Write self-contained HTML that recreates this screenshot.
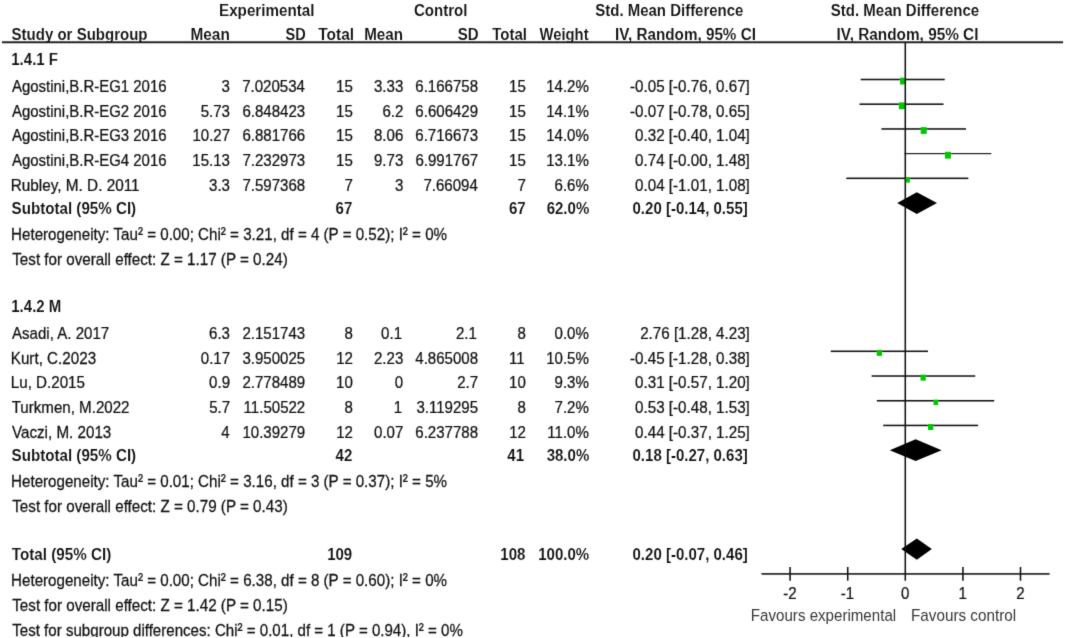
<!DOCTYPE html>
<html><head><meta charset="utf-8"><title>Forest plot</title>
<style>
html,body{margin:0;padding:0;background:#fff;}
svg{display:block;}
text{font-family:"Liberation Sans",Arial,Helvetica,sans-serif;font-size:17.0px;fill:#111;stroke:#111;stroke-width:0.25px;}
text.f{stroke:none;fill:#383838;}
text.b{font-weight:bold;stroke:#fff;stroke-width:0.07px;}
</style></head><body>
<svg width="1065" height="638" viewBox="0 0 1065 638">
<defs><clipPath id="hc"><rect x="0" y="0" width="1065" height="43"/></clipPath><clipPath id="bc"><rect x="0" y="0" width="1065" height="636.2"/></clipPath><filter id="soft" x="0" y="0" width="1065" height="638" filterUnits="userSpaceOnUse"><feConvolveMatrix order="3" kernelMatrix="0.0113 0.0838 0.0113 0.0838 0.6193 0.0838 0.0113 0.0838 0.0113" divisor="1" bias="0" edgeMode="duplicate" preserveAlpha="false"/></filter></defs>
<rect x="0" y="0" width="1065" height="638" fill="#fff"/>
<g filter="url(#soft)" clip-path="url(#bc)">
<g clip-path="url(#hc)">
<text transform="translate(218.98,16.00) scale(0.8954,1)" class="b">Experimental</text>
<text transform="translate(413.88,16.00) scale(0.8866,1)" class="b">Control</text>
<text transform="translate(595.27,16.00) scale(0.8816,1)" class="b">Std. Mean Difference</text>
<text transform="translate(830.87,16.00) scale(0.8828,1)" class="b">Std. Mean Difference</text>
<text transform="translate(11.57,40.00) scale(0.8838,1)" class="b">Study or Subgroup</text>
<text transform="translate(190.47,40.00) scale(0.9061,1)" class="b">Mean</text>
<text transform="translate(285.48,40.00) scale(0.8563,1)" class="b">SD</text>
<text transform="translate(318.23,40.00) scale(0.9114,1)" class="b">Total</text>
<text transform="translate(364.18,40.00) scale(0.8940,1)" class="b">Mean</text>
<text transform="translate(457.82,40.00) scale(0.8850,1)" class="b">SD</text>
<text transform="translate(492.33,40.00) scale(0.8824,1)" class="b">Total</text>
<text transform="translate(539.49,40.00) scale(0.8711,1)" class="b">Weight</text>
<text transform="translate(614.98,40.00) scale(0.8975,1)" class="b">IV, Random, 95% CI</text>
<text transform="translate(836.57,40.00) scale(0.9039,1)" class="b">IV, Random, 95% CI</text>
</g>
<g>
<text transform="translate(11.25,65.00) scale(0.8850,1)" class="b">1.4.1 F</text>
<text transform="translate(11.97,91.80) scale(0.8801,1)">Agostini,B.R-EG1 2016</text>
<text transform="translate(221.58,91.80) scale(0.8850,1)">3</text>
<text transform="translate(242.19,91.80) scale(0.8850,1)">7.020534</text>
<text transform="translate(336.09,91.80) scale(0.8850,1)">15</text>
<text transform="translate(373.97,91.80) scale(0.8850,1)">3.33</text>
<text transform="translate(415.30,91.80) scale(0.8850,1)">6.166758</text>
<text transform="translate(509.09,91.80) scale(0.8850,1)">15</text>
<text transform="translate(546.18,91.80) scale(0.8850,1)">14.2%</text>
<text transform="translate(630.04,91.80) scale(0.8930,1)">-0.05 [-0.76, 0.67]</text>
<text transform="translate(11.97,116.51) scale(0.8801,1)">Agostini,B.R-EG2 2016</text>
<text transform="translate(200.67,116.51) scale(0.8850,1)">5.73</text>
<text transform="translate(242.41,116.51) scale(0.8850,1)">6.848423</text>
<text transform="translate(336.09,116.51) scale(0.8850,1)">15</text>
<text transform="translate(382.43,116.51) scale(0.8850,1)">6.2</text>
<text transform="translate(415.36,116.51) scale(0.8850,1)">6.606429</text>
<text transform="translate(509.09,116.51) scale(0.8850,1)">15</text>
<text transform="translate(546.18,116.51) scale(0.8850,1)">14.1%</text>
<text transform="translate(630.04,116.51) scale(0.8930,1)">-0.07 [-0.78, 0.65]</text>
<text transform="translate(11.97,141.22) scale(0.8801,1)">Agostini,B.R-EG3 2016</text>
<text transform="translate(192.40,141.22) scale(0.8850,1)">10.27</text>
<text transform="translate(242.41,141.22) scale(0.8850,1)">6.881766</text>
<text transform="translate(336.09,141.22) scale(0.8850,1)">15</text>
<text transform="translate(373.97,141.22) scale(0.8850,1)">8.06</text>
<text transform="translate(415.31,141.22) scale(0.8850,1)">6.716673</text>
<text transform="translate(509.09,141.22) scale(0.8850,1)">15</text>
<text transform="translate(546.18,141.22) scale(0.8850,1)">14.0%</text>
<text transform="translate(635.09,141.22) scale(0.8930,1)">0.32 [-0.40, 1.04]</text>
<text transform="translate(11.97,165.93) scale(0.8801,1)">Agostini,B.R-EG4 2016</text>
<text transform="translate(192.31,165.93) scale(0.8850,1)">15.13</text>
<text transform="translate(242.41,165.93) scale(0.8850,1)">7.232973</text>
<text transform="translate(336.09,165.93) scale(0.8850,1)">15</text>
<text transform="translate(373.97,165.93) scale(0.8850,1)">9.73</text>
<text transform="translate(415.40,165.93) scale(0.8850,1)">6.991767</text>
<text transform="translate(509.09,165.93) scale(0.8850,1)">15</text>
<text transform="translate(546.18,165.93) scale(0.8850,1)">13.1%</text>
<text transform="translate(635.09,165.93) scale(0.8930,1)">0.74 [-0.00, 1.48]</text>
<text transform="translate(10.74,190.64) scale(0.9021,1)">Rubley, M. D. 2011</text>
<text transform="translate(209.04,190.64) scale(0.8850,1)">3.3</text>
<text transform="translate(242.40,190.64) scale(0.8850,1)">7.597368</text>
<text transform="translate(344.58,190.64) scale(0.8850,1)">7</text>
<text transform="translate(394.88,190.64) scale(0.8850,1)">3</text>
<text transform="translate(423.45,190.64) scale(0.8850,1)">7.66094</text>
<text transform="translate(517.58,190.64) scale(0.8850,1)">7</text>
<text transform="translate(554.54,190.64) scale(0.8850,1)">6.6%</text>
<text transform="translate(635.09,190.64) scale(0.8930,1)">0.04 [-1.01, 1.08]</text>
<text transform="translate(11.56,213.65) scale(0.8920,1)" class="b">Subtotal (95% CI)</text>
<text transform="translate(335.62,213.65) scale(0.8850,1)" class="b">67</text>
<text transform="translate(508.92,213.65) scale(0.8850,1)" class="b">67</text>
<text transform="translate(546.64,213.65) scale(0.8850,1)" class="b">62.0%</text>
<text transform="translate(632.51,213.65) scale(0.8844,1)" class="b">0.20 [-0.14, 0.55]</text>
<text transform="translate(11.06,240.40) scale(0.8915,1)">Heterogeneity: Tau² = 0.00; Chi² = 3.21, df = 4 (P = 0.52); I² = 0%</text>
<text transform="translate(12.26,265.40) scale(0.8940,1)">Test for overall effect: Z = 1.17 (P = 0.24)</text>
<text transform="translate(11.25,312.10) scale(0.8850,1)" class="b">1.4.2 M</text>
<text transform="translate(11.97,338.90) scale(0.8873,1)">Asadi, A. 2017</text>
<text transform="translate(209.04,338.90) scale(0.8850,1)">6.3</text>
<text transform="translate(242.41,338.90) scale(0.8850,1)">2.151743</text>
<text transform="translate(344.47,338.90) scale(0.8850,1)">8</text>
<text transform="translate(381.11,338.90) scale(0.8850,1)">0.1</text>
<text transform="translate(455.91,338.90) scale(0.8850,1)">2.1</text>
<text transform="translate(517.47,338.90) scale(0.8850,1)">8</text>
<text transform="translate(554.54,338.90) scale(0.8850,1)">0.0%</text>
<text transform="translate(640.14,338.90) scale(0.8930,1)">2.76 [1.28, 4.23]</text>
<text transform="translate(10.75,363.61) scale(0.8959,1)">Kurt, C.2023</text>
<text transform="translate(200.77,363.61) scale(0.8850,1)">0.17</text>
<text transform="translate(242.38,363.61) scale(0.8850,1)">3.950025</text>
<text transform="translate(336.21,363.61) scale(0.8850,1)">12</text>
<text transform="translate(373.97,363.61) scale(0.8850,1)">2.23</text>
<text transform="translate(415.30,363.61) scale(0.8850,1)">4.865008</text>
<text transform="translate(509.01,363.61) scale(0.8850,1)">11</text>
<text transform="translate(546.18,363.61) scale(0.8850,1)">10.5%</text>
<text transform="translate(630.04,363.61) scale(0.8930,1)">-0.45 [-1.28, 0.38]</text>
<text transform="translate(10.75,388.32) scale(0.8930,1)">Lu, D.2015</text>
<text transform="translate(209.09,388.32) scale(0.8850,1)">0.9</text>
<text transform="translate(242.46,388.32) scale(0.8850,1)">2.778489</text>
<text transform="translate(336.04,388.32) scale(0.8850,1)">10</text>
<text transform="translate(394.81,388.32) scale(0.8850,1)">0</text>
<text transform="translate(457.23,388.32) scale(0.8850,1)">2.7</text>
<text transform="translate(509.04,388.32) scale(0.8850,1)">10</text>
<text transform="translate(554.54,388.32) scale(0.8850,1)">9.3%</text>
<text transform="translate(635.09,388.32) scale(0.8930,1)">0.31 [-0.57, 1.20]</text>
<text transform="translate(11.66,413.03) scale(0.8892,1)">Turkmen, M.2022</text>
<text transform="translate(209.13,413.03) scale(0.8850,1)">5.7</text>
<text transform="translate(243.61,413.03) scale(0.8850,1)">11.50522</text>
<text transform="translate(344.47,413.03) scale(0.8850,1)">8</text>
<text transform="translate(393.65,413.03) scale(0.8850,1)">1</text>
<text transform="translate(416.39,413.03) scale(0.8850,1)">3.119295</text>
<text transform="translate(517.47,413.03) scale(0.8850,1)">8</text>
<text transform="translate(554.54,413.03) scale(0.8850,1)">7.2%</text>
<text transform="translate(635.09,413.03) scale(0.8930,1)">0.53 [-0.48, 1.53]</text>
<text transform="translate(11.93,437.74) scale(0.8952,1)">Vaczi, M. 2013</text>
<text transform="translate(221.36,437.74) scale(0.8850,1)">4</text>
<text transform="translate(242.46,437.74) scale(0.8850,1)">10.39279</text>
<text transform="translate(336.21,437.74) scale(0.8850,1)">12</text>
<text transform="translate(374.07,437.74) scale(0.8850,1)">0.07</text>
<text transform="translate(415.30,437.74) scale(0.8850,1)">6.237788</text>
<text transform="translate(509.21,437.74) scale(0.8850,1)">12</text>
<text transform="translate(547.28,437.74) scale(0.8850,1)">11.0%</text>
<text transform="translate(635.09,437.74) scale(0.8930,1)">0.44 [-0.37, 1.25]</text>
<text transform="translate(11.56,460.75) scale(0.8920,1)" class="b">Subtotal (95% CI)</text>
<text transform="translate(335.56,460.75) scale(0.8850,1)" class="b">42</text>
<text transform="translate(507.37,460.75) scale(0.8850,1)" class="b">41</text>
<text transform="translate(546.64,460.75) scale(0.8850,1)" class="b">38.0%</text>
<text transform="translate(632.51,460.75) scale(0.8844,1)" class="b">0.18 [-0.27, 0.63]</text>
<text transform="translate(11.06,487.30) scale(0.8915,1)">Heterogeneity: Tau² = 0.01; Chi² = 3.16, df = 3 (P = 0.37); I² = 5%</text>
<text transform="translate(12.26,512.30) scale(0.8940,1)">Test for overall effect: Z = 0.79 (P = 0.43)</text>
<text transform="translate(11.83,559.70) scale(0.8946,1)" class="b">Total (95% CI)</text>
<text transform="translate(327.15,559.70) scale(0.8850,1)" class="b">109</text>
<text transform="translate(500.35,559.70) scale(0.8850,1)" class="b">108</text>
<text transform="translate(538.26,559.70) scale(0.8850,1)" class="b">100.0%</text>
<text transform="translate(632.51,559.70) scale(0.8844,1)" class="b">0.20 [-0.07, 0.46]</text>
<text transform="translate(11.06,586.30) scale(0.8915,1)">Heterogeneity: Tau² = 0.00; Chi² = 6.38, df = 8 (P = 0.60); I² = 0%</text>
<text transform="translate(12.26,611.10) scale(0.8940,1)">Test for overall effect: Z = 1.42 (P = 0.15)</text>
<text transform="translate(12.26,635.50) scale(0.8883,1)">Test for subgroup differences: Chi² = 0.01, df = 1 (P = 0.94), I² = 0%</text>
<text transform="translate(783.15,598.90) scale(0.8850,1)">-2</text>
<text transform="translate(840.74,598.90) scale(0.8850,1)">-1</text>
<text transform="translate(901.11,598.90) scale(0.8850,1)">0</text>
<text transform="translate(958.50,598.90) scale(0.8850,1)">1</text>
<text transform="translate(1016.31,598.90) scale(0.8850,1)">2</text>
<text transform="translate(750.86,621.00) scale(0.8892,1)" class="f" fill="#333">Favours experimental</text>
<text transform="translate(911.05,621.00) scale(0.8976,1)" class="f" fill="#333">Favours control</text>
</g>
<g>
<rect x="2" y="41.3" width="1061" height="1.9" fill="#1a1a1a"/>
<rect x="860.72" y="78.75" width="83.97" height="1.5" fill="#0a0a0a"/>
<rect x="900.02" y="77.70" width="6.00" height="6.80" fill="#00c600"/>
<rect x="859.57" y="103.46" width="83.97" height="1.5" fill="#0a0a0a"/>
<rect x="898.87" y="102.41" width="6.00" height="6.80" fill="#00c600"/>
<rect x="881.46" y="128.17" width="84.54" height="1.5" fill="#0a0a0a"/>
<rect x="920.73" y="127.12" width="6.00" height="6.80" fill="#00c600"/>
<rect x="904.50" y="153.08" width="86.85" height="1.1" fill="#0a0a0a"/>
<rect x="944.92" y="151.83" width="6.00" height="6.80" fill="#00c600"/>
<rect x="846.32" y="177.59" width="121.98" height="1.5" fill="#0a0a0a"/>
<rect x="905.30" y="177.24" width="4.60" height="5.40" fill="#00c600"/>
<polygon points="897.24,203.05 916.82,192.15 936.98,203.05 916.82,213.95" fill="#000"/>
<rect x="830.77" y="350.56" width="97.22" height="1.5" fill="#0a0a0a"/>
<rect x="876.78" y="349.91" width="5.20" height="6.00" fill="#00c600"/>
<rect x="871.67" y="375.27" width="103.55" height="1.5" fill="#0a0a0a"/>
<rect x="920.56" y="374.62" width="5.20" height="6.00" fill="#00c600"/>
<rect x="876.85" y="399.98" width="117.38" height="1.5" fill="#0a0a0a"/>
<rect x="933.53" y="399.63" width="4.60" height="5.40" fill="#00c600"/>
<rect x="883.19" y="424.69" width="94.91" height="1.5" fill="#0a0a0a"/>
<rect x="928.04" y="424.04" width="5.20" height="6.00" fill="#00c600"/>
<polygon points="889.75,450.15 915.67,439.25 941.59,450.15 915.67,461.05" fill="#000"/>
<polygon points="901.27,549.10 916.82,538.40 931.80,549.10 916.82,559.80" fill="#000"/>
<rect x="904.55" y="43" width="1.5" height="537.7" fill="#0a0a0a"/>
<rect x="761.5" y="573.15" width="288.1" height="1.5" fill="#0a0a0a"/>
<rect x="789.35" y="567" width="1.5" height="13.7" fill="#0a0a0a"/>
<rect x="846.95" y="567" width="1.5" height="13.7" fill="#0a0a0a"/>
<rect x="962.15" y="567" width="1.5" height="13.7" fill="#0a0a0a"/>
<rect x="1019.75" y="567" width="1.5" height="13.7" fill="#0a0a0a"/>
</g>
</g>
</svg>
</body></html>
